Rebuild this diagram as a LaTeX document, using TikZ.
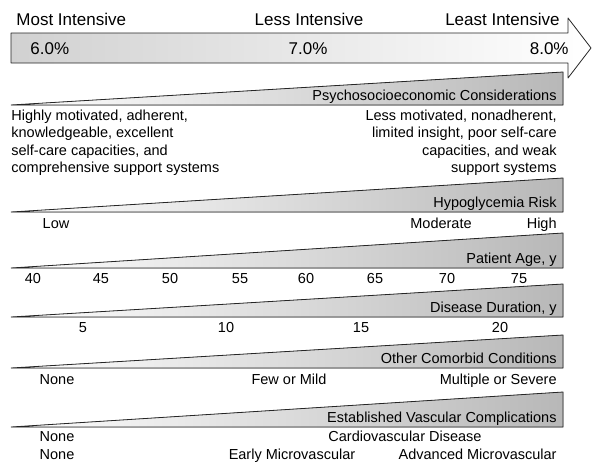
\documentclass[tikz,border=0pt]{standalone}
\usepackage{fontspec}
\setmainfont{Liberation Sans}
\begin{document}
\begin{tikzpicture}[x=1pt,y=-1pt,line width=0.8pt,
  wedge/.style={draw=black!85,left color=white,right color=black!28},
  lab/.style={font=\fontsize{14.5}{17.3}\selectfont,inner sep=0pt},
  head/.style={font=\fontsize{17}{20}\selectfont,inner sep=0pt}]
\useasboundingbox (0,0) rectangle (593,464);
% big arrow
\draw[draw=black!85,left color=black!18,right color=white,line join=round]
  (11,33)--(568,33)--(568,18)--(591,48)--(568,78)--(568,63)--(11,63)--cycle;
\node[head,anchor=base west] (most) at (16,25) {Most Intensive};
\node[head,anchor=base] (less) at (309,25) {Less Intensive};
\node[head,anchor=base east] (least) at (560,25) {Least Intensive};
\node[head,anchor=base west] (six) at (30,54) {6.0\%};
\node[head,anchor=base] (seven) at (308,54) {7.0\%};
\node[head,anchor=base east] (eight) at (569,54) {8.0\%};
% wedges
\filldraw[wedge] (11,105)--(563,72)--(563,105)--cycle;
\filldraw[wedge] (11,212)--(563,178)--(563,212)--cycle;
\filldraw[wedge] (11,268)--(563,233)--(563,268)--cycle;
\filldraw[wedge] (11,317)--(563,284)--(563,317)--cycle;
\filldraw[wedge] (11,368)--(563,335)--(563,368)--cycle;
\filldraw[wedge] (11,427)--(563,392)--(563,427)--cycle;
% psychosocioeconomic
\node[lab,anchor=base east] (psy) at (557,100) {Psychosocioeconomic Considerations};
\node[lab,anchor=north west,align=left] (psyl) at (11,109.5)
  {Highly motivated, adherent,\\knowledgeable, excellent\\self-care capacities, and\\comprehensive support systems};
\node[lab,anchor=north east,align=right] (psyr) at (557,109.5)
  {Less motivated, nonadherent,\\limited insight, poor self-care\\capacities, and weak\\support systems};
% hypoglycemia
\node[lab,anchor=base east] (hypo) at (557,207) {Hypoglycemia Risk};
\node[lab,anchor=base] (low) at (56,228) {Low};
\node[lab,anchor=base] (moderate) at (441,228) {Moderate};
\node[lab,anchor=base east] (high) at (557,228) {High};
% age
\node[lab,anchor=base east] (age) at (557,263) {Patient Age, y};
\foreach \n/\x in {40/33,45/101,50/170,55/240,60/306,65/375,70/447,75/519}
  \node[lab,anchor=base] (age\n) at (\x,283) {\n};
% duration
\node[lab,anchor=base east] (dur) at (557,312) {Disease Duration, y};
\foreach \n/\x in {5/83,10/226,15/361,20/500}
  \node[lab,anchor=base] (dur\n) at (\x,332) {\n};
% comorbid
\node[lab,anchor=base east] (com) at (557,363) {Other Comorbid Conditions};
\node[lab,anchor=base] (comnone) at (57,384) {None};
\node[lab,anchor=base] (commild) at (289,384) {Few or Mild};
\node[lab,anchor=base east] (comsev) at (557,384) {Multiple or Severe};
% vascular
\node[lab,anchor=base east] (vasc) at (557,422) {Established Vascular Complications};
\node[lab,anchor=base] (cvnone) at (57,441) {None};
\node[lab,anchor=base] (cvd) at (405,441) {Cardiovascular Disease};
\node[lab,anchor=base] (mvnone) at (57,459) {None};
\node[lab,anchor=base] (early) at (292,459) {Early Microvascular};
\node[lab,anchor=base east] (adv) at (557,459) {Advanced Microvascular};
\end{tikzpicture}
\end{document}
